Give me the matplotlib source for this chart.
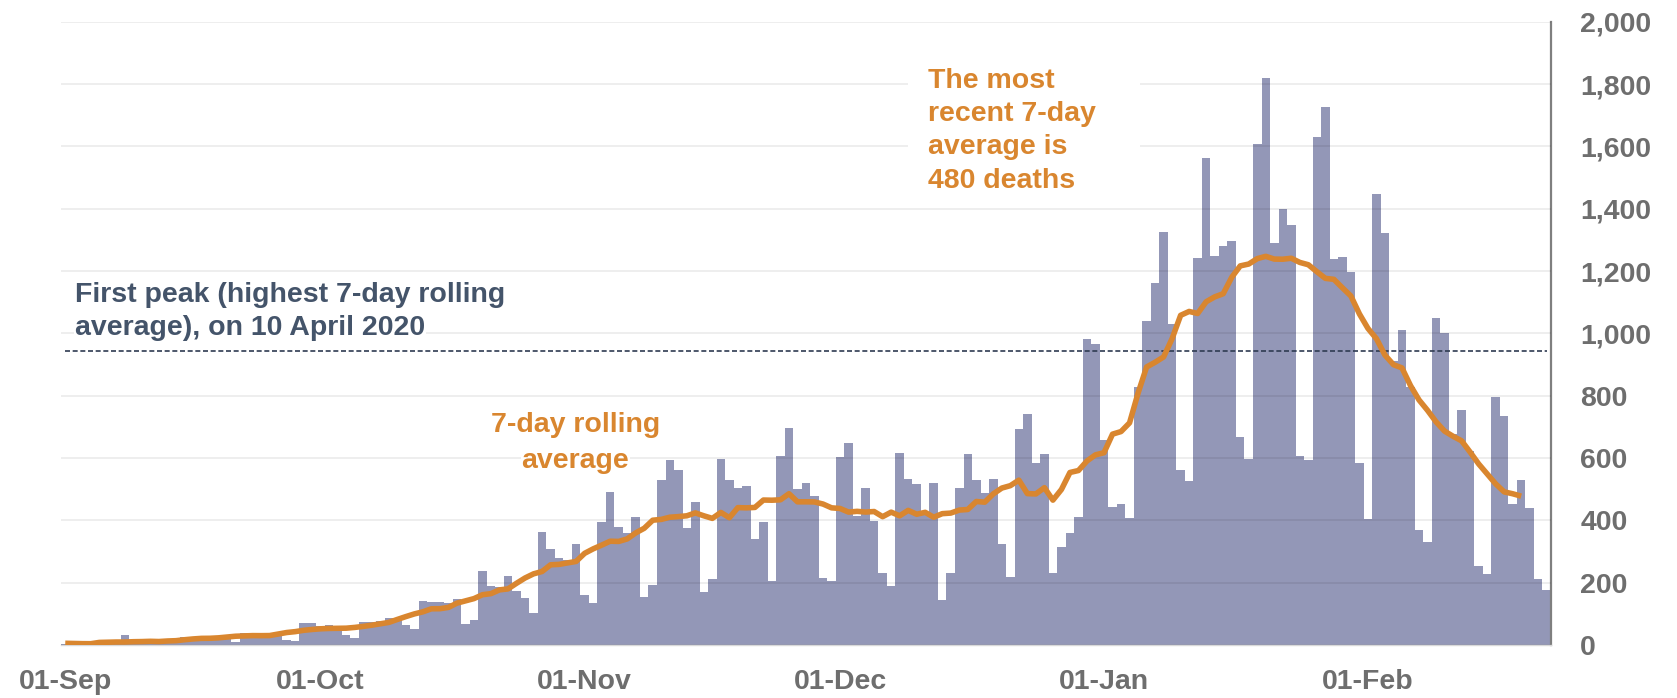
import matplotlib
matplotlib.use('Agg')
import matplotlib.pyplot as plt
from matplotlib.patches import Rectangle
import numpy as np
import pandas as pd

# ---- data: daily deaths reported, 1 Sep 2020 - 22 Feb 2021 ----
start_date = '2020-09-01'
end_date = '2021-02-22'
sep_deaths = [3, 3, 10, 6, 2, 2, 3, 32, 8, 14, 6, 9, 5, 9, 27, 20, 21, 27, 27, 18,
              11, 37, 37, 40, 34, 34, 17, 13, 71, 71]
oct_deaths = [60, 64, 53, 32, 21, 75, 73, 77, 87, 80, 64, 51, 142, 137, 137, 134, 148,
              66, 80, 238, 189, 187, 221, 173, 150, 102, 364, 308, 280, 274, 323]
nov_deaths = [160, 136, 396, 490, 380, 358, 411, 155, 193, 531, 594, 561, 376, 460,
              169, 211, 596, 529, 503, 510, 341, 396, 205, 606, 695, 499, 519, 478,
              214, 205]
dec_deaths = [603, 648, 414, 504, 397, 231, 189, 615, 532, 516, 422, 519, 144, 232,
              505, 612, 529, 489, 533, 323, 217, 692, 742, 583, 613, 230, 316, 358,
              412, 981, 965]
jan_deaths = [657, 444, 454, 406, 829, 1039, 1160, 1325, 1031, 560, 526, 1241, 1562,
              1247, 1279, 1295, 669, 597, 1609, 1819, 1289, 1400, 1347, 607, 594,
              1631, 1725, 1237, 1244, 1197, 585]
feb_deaths = [404, 1447, 1322, 912, 1012, 829, 370, 331, 1050, 1000, 678, 754, 621,
              254, 229, 797, 735, 454, 529, 441, 212, 175]

first_peak_avg = 943          # highest 7-day rolling average, 10 April 2020
latest_avg_label = 480

tick_dates = ['2020-09-01', '2020-10-01', '2020-11-01', '2020-12-01',
              '2021-01-01', '2021-02-01']
tick_labels = ['01-Sep', '01-Oct', '01-Nov', '01-Dec', '01-Jan', '01-Feb']
y_ticks = list(range(0, 2001, 200))

# ---- build ----
deaths = sep_deaths + oct_deaths + nov_deaths + dec_deaths + jan_deaths + feb_deaths
dates = pd.date_range(start_date, end_date, freq='D')
assert len(dates) == len(deaths)
series = pd.Series(deaths, index=dates)
rolling = series.rolling(7, center=True, min_periods=1).mean()

ORANGE = '#D9862F'
BAR = '#9397B7'
NAVY = '#44546A'
GREY_TXT = '#6E6E6E'
FS = 20.5

plt.rcParams['font.family'] = ['Liberation Sans', 'DejaVu Sans']

W, H = 1677, 698
fig = plt.figure(figsize=(W / 100, H / 100), dpi=100)
ax = fig.add_axes([61 / W, 53 / H, (1551 - 61) / W, (645 - 21.7) / H])

x = np.arange(len(deaths))
ax.bar(x, deaths, width=1.0, color=BAR, linewidth=0, zorder=1)

n_line = len(deaths) - 3
ax.plot(x[:n_line], rolling.values[:n_line], color=ORANGE, lw=4.0, zorder=4,
        solid_joinstyle='round', solid_capstyle='butt')

ax.hlines(first_peak_avg, 0, len(deaths) - 1, colors='#2F3B52',
          linestyles=(0, (3, 1.6)), lw=1.2, zorder=3)

ax.set_xlim(-0.5, len(deaths) - 0.5)
ax.set_ylim(0, 2000)

# y axis on the right
ax.yaxis.tick_right()
ax.set_yticks(y_ticks)
ax.set_yticklabels([f'{v:,}' for v in y_ticks])
ax.tick_params(axis='y', length=0, pad=21, labelsize=FS, labelcolor=GREY_TXT)

tick_pos = [dates.get_loc(pd.Timestamp(d)) for d in tick_dates]
ax.set_xticks(tick_pos)
ax.set_xticklabels(tick_labels)
ax.tick_params(axis='x', length=0, pad=17.5, labelsize=FS, labelcolor=GREY_TXT)
for lab in ax.get_xticklabels() + ax.get_yticklabels():
    lab.set_fontweight('bold')

ax.set_axisbelow(False)
ax.grid(axis='y', color='black', alpha=0.08, lw=1.2)
ax.grid(axis='x', visible=False)

for s in ['left', 'top']:
    ax.spines[s].set_visible(False)
ax.spines['right'].set_color('#7F7F7F')
ax.spines['right'].set_linewidth(1.6)
ax.spines['bottom'].set_color('#D9D9D9')
ax.spines['bottom'].set_linewidth(1.0)

tight_box = dict(facecolor='white', edgecolor='none', pad=0.5)
# first-peak annotation (one text per line, each with a tight white box)
ax.text(1.14, 1123, 'First peak (highest 7-day rolling', color=NAVY, fontsize=FS,
        fontweight='bold', ha='left', va='center', zorder=5, bbox=tight_box)
ax.text(1.14, 1018, 'average), on 10 April 2020', color=NAVY, fontsize=FS,
        fontweight='bold', ha='left', va='center', zorder=5, bbox=tight_box)

# rolling-average label
ax.text(59.9, 705, '7-day rolling', color=ORANGE, fontsize=FS, fontweight='bold',
        ha='center', va='center', zorder=5, bbox=tight_box)
ax.text(59.9, 592, 'average', color=ORANGE, fontsize=FS, fontweight='bold',
        ha='center', va='center', zorder=5, bbox=tight_box)

# latest-average label with white text box
ax.add_patch(Rectangle((99.0, 1480), 27.2, 440, facecolor='white', edgecolor='none',
                       zorder=4.5))
ax.text(101.3, 1650, f'The most\nrecent 7-day\naverage is\n{latest_avg_label} deaths',
        color=ORANGE, fontsize=FS, fontweight='bold', ha='left', va='center',
        linespacing=1.36, zorder=5)

fig.savefig('out.png', dpi=100, facecolor='white')
